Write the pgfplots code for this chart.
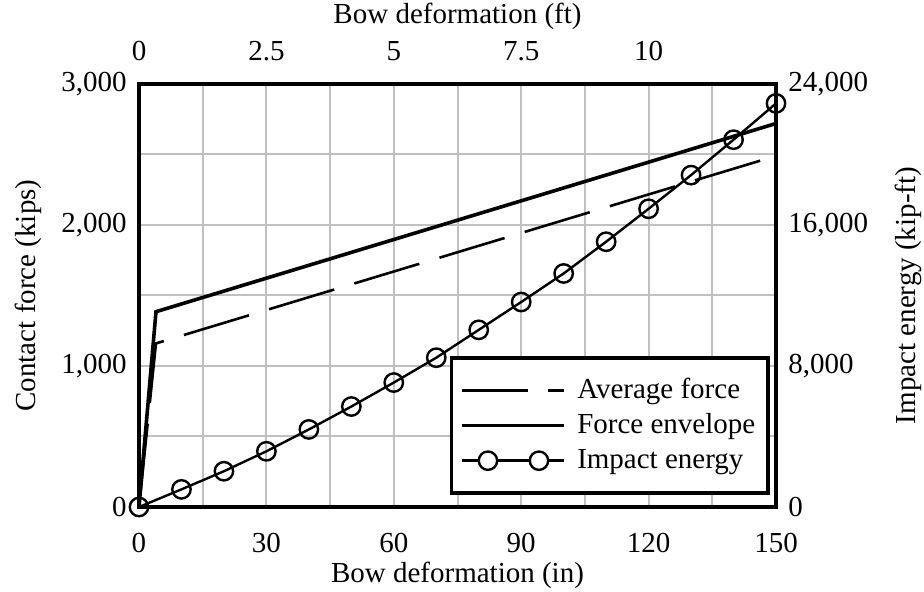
\documentclass[border=0pt]{standalone}
\usepackage{fontspec}
\setmainfont{Liberation Serif}
\usepackage{pgfplots}
\pgfplotsset{compat=1.18}
\definecolor{gridgray}{RGB}{192,192,192}
\begin{document}
\begin{tikzpicture}[font=\fontsize{14.5}{17.4}\selectfont]
\pgfplotsset{
  every axis/.append style={
    scale only axis, width=318.5pt, height=211.5pt,
    xmin=0, xmax=150,
    /pgf/number format/assume math mode=true,
    /pgf/number format/1000 sep={,},
    major tick length=0pt, minor tick length=0pt,
    axis line style={line width=1.9pt, black},
    tick label style={font=\fontsize{14.5}{17.4}\selectfont},
    label style={font=\fontsize{14.5}{17.4}\selectfont},
  }
}
\begin{axis}[at={(0,0)}, anchor=south west,
  ymin=0, ymax=3000,
  xtick={0,30,60,90,120,150}, ytick={0,1000,2000,3000},
  minor xtick={15,45,75,105,135}, minor ytick={500,1500,2500},
  grid=both,
  major grid style={draw=gridgray, line width=1pt},
  minor grid style={draw=gridgray, line width=1pt},
  xtick pos=bottom, ytick pos=left,
  scaled y ticks=false,
  xticklabel style={anchor=center, yshift=-18pt},
  yticklabel style={anchor=east, inner sep=0pt, xshift=-6pt},
  xlabel={Bow deformation (in)},
  ylabel={Contact force (kips)},
  xlabel style={at={(axis description cs:0.5,-0.1608)}, anchor=center},
  ylabel style={at={(axis description cs:-0.1743,0.5)}, anchor=center},
]
\addplot[line width=1.3pt, dash pattern=on 34pt off 10.5pt, dash phase=36.7pt] coordinates {(0,0) (4,1160) (150,2490)};
\addplot[line width=1.8pt] coordinates {(0,0) (4,1385) (150,2720)};
\end{axis}
\begin{axis}[at={(0,0)}, anchor=south west,
  ymin=0, ymax=24000,
  axis x line*=top, axis y line*=right,
  xtick={0,30,60,90,120}, xticklabels={0,2.5,5,7.5,10},
  ytick={0,8000,16000,24000},
  scaled y ticks=false,
  xticklabel style={anchor=center, yshift=16.5pt},
  yticklabel style={anchor=west, inner sep=0pt, xshift=6pt},
  xlabel={Bow deformation (ft)},
  ylabel={Impact energy (kip-ft)},
  xlabel style={at={(axis description cs:0.5,1.16)}, anchor=center},
  ylabel style={at={(axis description cs:1.2072,0.5)}, anchor=center},
  legend style={at={(axis description cs:0.9906,0.0284)}, anchor=south east,
    draw=black, line width=1.8pt, fill=white,
    inner xsep=4.5pt, inner ysep=7.5pt, column sep=3.5pt,
    nodes={inner sep=2pt, text height=10.5pt, text depth=3pt},
    font=\fontsize{14.5}{17.4}\selectfont},
  legend cell align=left,
]
\addlegendimage{legend image code/.code={\draw[line width=1.3pt, dash pattern=on 33pt off 10pt] (0pt,0pt) -- (51pt,0pt);}}
\addlegendentry{Average force}
\addlegendimage{legend image code/.code={\draw[line width=1.8pt] (0pt,0pt) -- (51pt,0pt);}}
\addlegendentry{Force envelope}
\addplot[line width=1.2pt, mark=o, mark size=4.6pt, mark options={fill=white, solid, line width=1.2pt},
  legend image code/.code={\draw[line width=1.2pt] (0pt,0pt) -- (51pt,0pt);
    \draw[line width=1.2pt, fill=white] (12.75pt,0pt) circle (4.6pt);
    \draw[line width=1.2pt, fill=white] (38.25pt,0pt) circle (4.6pt);}]
  coordinates {(0,0) (10,1000) (20,2030) (30,3160) (40,4400) (50,5700) (60,7060) (70,8470) (80,10050) (90,11630) (100,13250) (110,15050) (120,16920) (130,18830) (140,20840) (150,22900)};
\addlegendentry{Impact energy}
\end{axis}
\pgfresetboundingbox
\path[use as bounding box] (-69.5pt,-42.5pt) rectangle (392.5pt,253.5pt);
\end{tikzpicture}
\end{document}
